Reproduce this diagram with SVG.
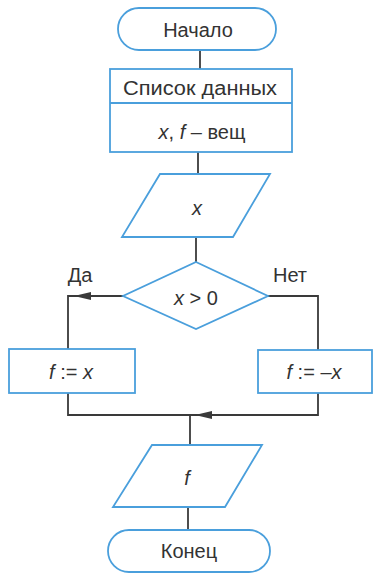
<svg xmlns="http://www.w3.org/2000/svg" width="378" height="574" viewBox="0 0 378 574">
<defs>
<style>
.n{fill:#fff;stroke:#4a9fdc;stroke-width:1.8}
.c{fill:none;stroke:#3a3a3a;stroke-width:1.8}
.a{fill:#3a3a3a}
text{font-family:"Liberation Sans",Arial,sans-serif;font-size:20px;fill:#333;text-anchor:middle}
.i{font-style:italic}
</style>
</defs>
<rect width="378" height="574" fill="#fff"/>
<g id="connectors">
<path class="c" d="M200,50 V69"/>
<path class="c" d="M198,152 V174"/>
<path class="c" d="M196,237 V262"/>
<path class="c" d="M123,296 H68 V349"/>
<polygon class="a" points="74,296 91,292 91,300"/>
<path class="c" d="M268,296 H318 V350"/>
<path class="c" d="M68,393 V415 H190"/>
<path class="c" d="M318,393 V415 H190"/>
<polygon class="a" points="195,415 212,411 212,419"/>
<path class="c" d="M190,415 V445"/>
<path class="c" d="M188,507 V530"/>
</g>
<g id="start">
<rect class="n" x="118" y="8" width="158" height="42" rx="21"/>
<text x="198" y="37">Начало</text>
</g>
<g id="data">
<rect class="n" x="110" y="69" width="182" height="83"/>
<line class="n" x1="110" y1="103" x2="292" y2="103"/>
<text x="200" y="95" textLength="154" lengthAdjust="spacingAndGlyphs">Список данных</text>
<text x="202" y="139"><tspan class="i">x</tspan>, <tspan class="i">f</tspan> – вещ</text>
</g>
<g id="input">
<polygon class="n" points="160,174 270,174 233,237 122,237"/>
<text class="i" x="197" y="215">x</text>
</g>
<g id="cond">
<polygon class="n" points="196,262 268,296 196,329 123,296"/>
<text x="196" y="305"><tspan class="i">x</tspan> &gt; 0</text>
</g>
<text x="80" y="282">Да</text>
<text x="290" y="282">Нет</text>
<g id="yes">
<rect class="n" x="9" y="349" width="126" height="44"/>
<text x="71" y="379"><tspan class="i">f</tspan> := <tspan class="i">x</tspan></text>
</g>
<g id="no">
<rect class="n" x="258" y="350" width="114" height="43"/>
<text x="314" y="379"><tspan class="i">f</tspan> := –<tspan class="i">x</tspan></text>
</g>
<g id="output">
<polygon class="n" points="152,445 262,445 225,507 113,507"/>
<text class="i" x="187" y="485">f</text>
</g>
<g id="end">
<rect class="n" x="108" y="530" width="162" height="42" rx="21"/>
<text x="189" y="558">Конец</text>
</g>
</svg>
